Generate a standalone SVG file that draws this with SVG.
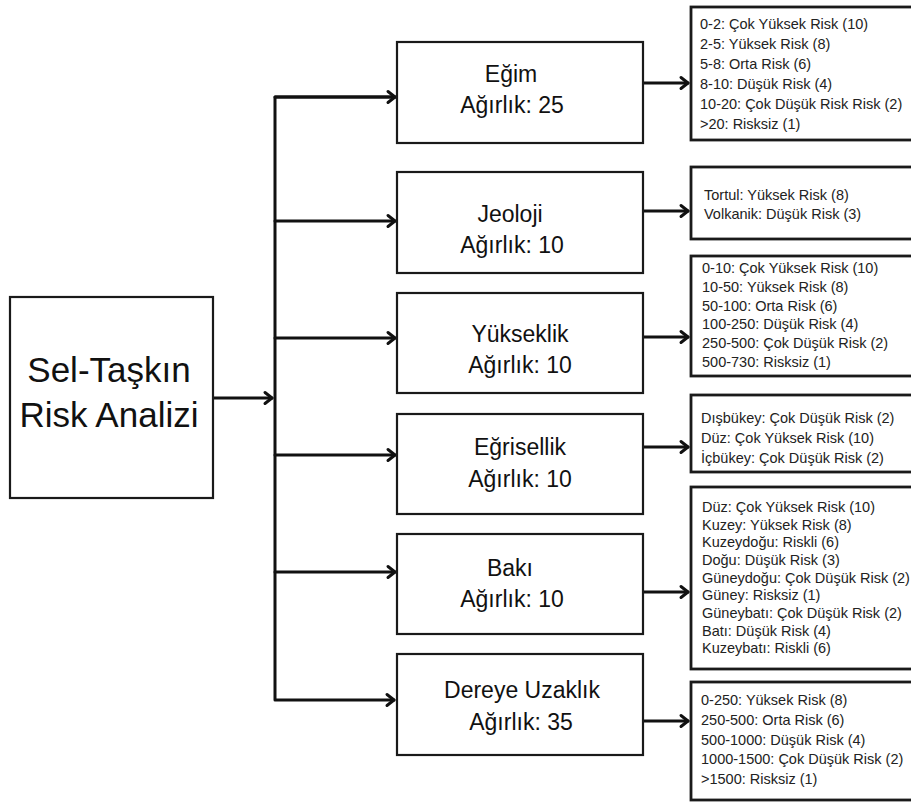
<svg xmlns="http://www.w3.org/2000/svg" width="911" height="802" viewBox="0 0 911 802">
  <style>
    .box { fill: #ffffff; stroke: #1a1a1a; stroke-width: 2.2; }
    .list { fill: #ffffff; stroke: #1a1a1a; stroke-width: 2.8; }
    .title { font-family: "Liberation Sans", Arial, sans-serif; font-size: 35px; fill: #111; text-anchor: middle; }
    .name { font-family: "Liberation Sans", Arial, sans-serif; font-size: 23px; fill: #111; text-anchor: middle; }
    .item { font-family: "Liberation Sans", Arial, sans-serif; font-size: 14.5px; fill: #222; }
    .wire { fill: none; stroke: #111; stroke-width: 3; stroke-linejoin: round; stroke-linecap: round; }
  </style>
  <defs>
    <marker id="arrow" markerUnits="userSpaceOnUse" markerWidth="14" markerHeight="16" viewBox="-10 -8 12 16" refX="0" refY="0" orient="auto">
      <path d="M-7,-5.5 L0,0 L-7,5.5" fill="none" stroke="#111" stroke-width="3" stroke-linecap="round" stroke-linejoin="round"/>
    </marker>
  </defs>

  <rect width="911" height="802" fill="#ffffff"/>

  <!-- connectors -->
  <g id="connectors">
    <path class="wire" d="M213,398 H272" marker-end="url(#arrow)"/>
    <path class="wire" d="M395,97 H275 V700 H394" marker-end="url(#arrow)"/>
    <path class="wire" d="M275,97 H395" marker-end="url(#arrow)"/>
    <path class="wire" d="M275,221 H395" marker-end="url(#arrow)"/>
    <path class="wire" d="M275,338 H395" marker-end="url(#arrow)"/>
    <path class="wire" d="M275,455 H395" marker-end="url(#arrow)"/>
    <path class="wire" d="M275,572 H395" marker-end="url(#arrow)"/>
    <path class="wire" d="M643,83 H688" marker-end="url(#arrow)"/>
    <path class="wire" d="M643,211 H688" marker-end="url(#arrow)"/>
    <path class="wire" d="M643,337 H688" marker-end="url(#arrow)"/>
    <path class="wire" d="M643,447 H688" marker-end="url(#arrow)"/>
    <path class="wire" d="M643,592 H688" marker-end="url(#arrow)"/>
    <path class="wire" d="M643,721 H688" marker-end="url(#arrow)"/>
  </g>

  <!-- root -->
  <g id="root">
    <rect class="box" x="10" y="297" width="203" height="201"/>
    <text class="title" x="109" y="382">Sel-Taşkın</text>
    <text class="title" x="109" y="427">Risk Analizi</text>
  </g>

  <!-- criteria -->
  <g id="egim">
    <rect class="box" x="397" y="42" width="246" height="101"/>
    <text class="name" x="511" y="82">Eğim</text>
    <text class="name" x="512" y="113">Ağırlık: 25</text>
  </g>
  <g id="jeoloji">
    <rect class="box" x="397" y="172" width="246" height="101"/>
    <text class="name" x="510" y="222">Jeoloji</text>
    <text class="name" x="512" y="253">Ağırlık: 10</text>
  </g>
  <g id="yukseklik">
    <rect class="box" x="397" y="293" width="246" height="100"/>
    <text class="name" x="520" y="342">Yükseklik</text>
    <text class="name" x="520" y="373">Ağırlık: 10</text>
  </g>
  <g id="egrisellik">
    <rect class="box" x="397" y="414" width="246" height="100"/>
    <text class="name" x="520" y="455">Eğrisellik</text>
    <text class="name" x="520" y="487">Ağırlık: 10</text>
  </g>
  <g id="baki">
    <rect class="box" x="397" y="534" width="246" height="100"/>
    <text class="name" x="510" y="576">Bakı</text>
    <text class="name" x="512" y="607">Ağırlık: 10</text>
  </g>
  <g id="dereye-uzaklik">
    <rect class="box" x="397" y="654" width="246" height="101"/>
    <text class="name" x="522" y="698">Dereye Uzaklık</text>
    <text class="name" x="521" y="730">Ağırlık: 35</text>
  </g>

  <!-- class lists -->
  <g id="egim-classes">
    <rect class="list" x="691" y="7" width="230" height="133"/>
    <text class="item" x="700" y="29">0-2: Çok Yüksek Risk (10)</text>
    <text class="item" x="700" y="49">2-5: Yüksek Risk (8)</text>
    <text class="item" x="700" y="69">5-8: Orta Risk (6)</text>
    <text class="item" x="700" y="89">8-10: Düşük Risk (4)</text>
    <text class="item" x="700" y="109">10-20: Çok Düşük Risk Risk (2)</text>
    <text class="item" x="700" y="129">&gt;20: Risksiz (1)</text>
  </g>
  <g id="jeoloji-classes">
    <rect class="list" x="691" y="167" width="230" height="72"/>
    <text class="item" x="704" y="200">Tortul: Yüksek Risk (8)</text>
    <text class="item" x="704" y="219">Volkanik: Düşük Risk (3)</text>
  </g>
  <g id="yukseklik-classes">
    <rect class="list" x="691" y="256" width="230" height="120"/>
    <text class="item" x="702" y="273" font-size="13.8">0-10: Çok Yüksek Risk (10)</text>
    <text class="item" x="702" y="292" font-size="13.8">10-50: Yüksek Risk (8)</text>
    <text class="item" x="702" y="311" font-size="13.8">50-100: Orta Risk (6)</text>
    <text class="item" x="702" y="329" font-size="13.8">100-250: Düşük Risk (4)</text>
    <text class="item" x="702" y="348" font-size="13.8">250-500: Çok Düşük Risk (2)</text>
    <text class="item" x="702" y="367" font-size="13.8">500-730: Risksiz (1)</text>
  </g>
  <g id="egrisellik-classes">
    <rect class="list" x="691" y="395" width="230" height="77"/>
    <text class="item" x="701" y="423">Dışbükey: Çok Düşük Risk (2)</text>
    <text class="item" x="701" y="443">Düz: Çok Yüksek Risk (10)</text>
    <text class="item" x="701" y="463">İçbükey: Çok Düşük Risk (2)</text>
  </g>
  <g id="baki-classes">
    <rect class="list" x="691" y="487" width="230" height="182"/>
    <text class="item" x="702" y="512" font-size="13.5">Düz: Çok Yüksek Risk (10)</text>
    <text class="item" x="702" y="530" font-size="13.5">Kuzey: Yüksek Risk (8)</text>
    <text class="item" x="702" y="547" font-size="13.5">Kuzeydoğu: Riskli (6)</text>
    <text class="item" x="702" y="565" font-size="13.5">Doğu: Düşük Risk (3)</text>
    <text class="item" x="702" y="583" font-size="13.5">Güneydoğu: Çok Düşük Risk (2)</text>
    <text class="item" x="702" y="600" font-size="13.5">Güney: Risksiz (1)</text>
    <text class="item" x="702" y="618" font-size="13.5">Güneybatı: Çok Düşük Risk (2)</text>
    <text class="item" x="702" y="636" font-size="13.5">Batı: Düşük Risk (4)</text>
    <text class="item" x="702" y="653" font-size="13.5">Kuzeybatı: Riskli (6)</text>
  </g>
  <g id="dereye-uzaklik-classes">
    <rect class="list" x="691" y="682" width="230" height="118"/>
    <text class="item" x="701" y="705">0-250: Yüksek Risk (8)</text>
    <text class="item" x="701" y="725">250-500: Orta Risk (6)</text>
    <text class="item" x="701" y="745">500-1000: Düşük Risk (4)</text>
    <text class="item" x="701" y="764">1000-1500: Çok Düşük Risk (2)</text>
    <text class="item" x="701" y="784">&gt;1500: Risksiz (1)</text>
  </g>
</svg>
